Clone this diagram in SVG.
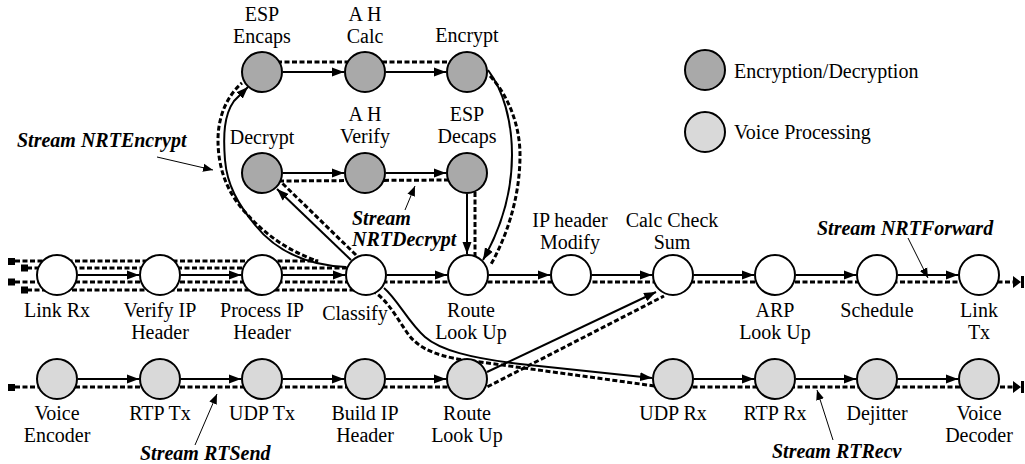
<svg xmlns="http://www.w3.org/2000/svg" width="1025" height="464" viewBox="0 0 1025 464">
<defs>
<marker id="arr" markerUnits="userSpaceOnUse" markerWidth="13" markerHeight="10" refX="12" refY="5" orient="auto"><path d="M0,0.5 L12,5 L0,9.5 Z" fill="#000"/></marker>
<marker id="arrs" markerUnits="userSpaceOnUse" markerWidth="11" markerHeight="9" refX="10" refY="4.5" orient="auto"><path d="M0,0.5 L10,4.5 L0,8.5 Z" fill="#000"/></marker>
</defs>
<style>
.n{stroke:#000;stroke-width:2;fill:#fff}
.enc{fill:#a9a9a9}
.voi{fill:#d9d9d9}
text{font-family:"Liberation Serif","Times New Roman",serif;font-size:20px;fill:#000}
.c{text-anchor:middle}
.s{font-weight:bold;font-style:italic}
.sol{fill:none;stroke:#000;stroke-width:2;marker-end:url(#arr)}
.dash{fill:none;stroke:#000;stroke-width:3;stroke-dasharray:5 2.5}
.lead{fill:none;stroke:#000;stroke-width:1;marker-end:url(#arrs)}
.sq{fill:#000}
</style>
<rect width="1025" height="464" fill="#fff"/>

<g id="connectors">
  <!-- stream dashed paths -->
  <path class="dash" d="M15,261 L318,261 C290,252 265,235 245,212 C225,190 218,165 218,140 C218,115 228,95 242,83"/>
  <path class="dash" d="M262,62 L467,62"/>
  <path class="dash" d="M490,76 C508,95 520,125 520,155 C520,200 505,240 490,266"/>
  <path class="dash" d="M27,268 L352,268"/>
  <path class="dash" d="M356,255 L282,183"/>
  <path class="dash" d="M279,181 L450,180"/>
  <path class="dash" d="M475,192 L475,256"/>
  <path class="dash" d="M15,282 L1014,282"/>
  <path class="dash" d="M27,290 L370,290 C385,296 395,315 408,334 C420,350 440,358 480,362 L655,386"/>
  <path class="dash" d="M15,387 L487,387 L664,296"/>
  <path class="dash" d="M655,387 L1014,387"/>
  <!-- entry / exit marks -->
  <rect class="sq" x="8" y="258" width="7" height="7"/>
  <rect class="sq" x="21" y="264.5" width="7" height="7"/>
  <rect class="sq" x="8" y="278.5" width="7" height="7"/>
  <rect class="sq" x="21" y="286.5" width="7" height="7"/>
  <rect class="sq" x="8" y="384" width="7" height="7"/>
  <path d="M1013,276 L1021,282 L1013,288 Z M1021,276 h3 v12 h-3 Z" fill="#000"/>
  <path d="M1013,381 L1021,387 L1013,393 Z M1021,381 h3 v12 h-3 Z" fill="#000"/>
  <!-- solid connectors: main row -->
  <path class="sol" d="M78,275 L139,275"/>
  <path class="sol" d="M181,275 L241,275"/>
  <path class="sol" d="M283,275 L345,275"/>
  <path class="sol" d="M387,275 L447,275"/>
  <path class="sol" d="M489,275 L550,275"/>
  <path class="sol" d="M592,275 L652,275"/>
  <path class="sol" d="M694,275 L754,275"/>
  <path class="sol" d="M796,275 L856,275"/>
  <path class="sol" d="M898,275 L958,275"/>
  <!-- bottom row -->
  <path class="sol" d="M78,379 L139,379"/>
  <path class="sol" d="M181,379 L241,379"/>
  <path class="sol" d="M283,379 L344,379"/>
  <path class="sol" d="M386,379 L446,379"/>
  <path class="sol" d="M694,379 L754,379"/>
  <path class="sol" d="M796,379 L856,379"/>
  <path class="sol" d="M898,379 L958,379"/>
  <!-- top rows -->
  <path class="sol" d="M283,72 L344,72"/>
  <path class="sol" d="M386,72 L446,72"/>
  <path class="sol" d="M283,173 L344,173"/>
  <path class="sol" d="M386,173 L446,173"/>
  <!-- branches -->
  <path class="sol" d="M346,267 C305,265 275,250 255,225 C238,204 227,185 225,160 C223,135 224,115 234,101 L248,87"/>
  <path class="sol" d="M351,260 L277,189"/>
  <path class="sol" d="M467,194 L467,254"/>
  <path class="sol" d="M488,70 C503,90 512,120 512,155 C512,195 500,230 483,260"/>
  <path class="sol" d="M384,288 C398,300 408,322 425,337 C440,350 470,358 520,364 L652,378"/>
  <path class="sol" d="M487,372 L656,292"/>
  <!-- leader arrows for stream labels -->
  <path class="lead" d="M157,157 L213,170"/>
  <path class="lead" d="M405,210 L415,186"/>
  <path class="lead" d="M908,238 L928,278"/>
  <path class="lead" d="M195,445 L217,394"/>
  <path class="lead" d="M833,440 L817,390"/>
</g>

<g id="n-esp-encaps"><circle class="n enc" cx="262" cy="72" r="20"/><text class="c" x="262" y="21">ESP</text><text class="c" x="262" y="43">Encaps</text></g>
<g id="n-ah-calc"><circle class="n enc" cx="365" cy="72" r="20"/><text class="c" x="365" y="21">A H</text><text class="c" x="365" y="43">Calc</text></g>
<g id="n-encrypt"><circle class="n enc" cx="467" cy="72" r="20"/><text class="c" x="467" y="42">Encrypt</text></g>
<g id="n-decrypt"><circle class="n enc" cx="262" cy="173" r="20"/><text class="c" x="262" y="144">Decrypt</text></g>
<g id="n-ah-verify"><circle class="n enc" cx="365" cy="173" r="20"/><text class="c" x="365" y="121">A H</text><text class="c" x="365" y="143">Verify</text></g>
<g id="n-esp-decaps"><circle class="n enc" cx="467" cy="173" r="20"/><text class="c" x="467" y="121">ESP</text><text class="c" x="467" y="143">Decaps</text></g>

<g id="n-link-rx"><circle class="n" cx="57" cy="275" r="20"/><text class="c" x="57" y="317">Link Rx</text></g>
<g id="n-verify-ip"><circle class="n" cx="160" cy="275" r="20"/><text class="c" x="160" y="317">Verify IP</text><text class="c" x="160" y="339">Header</text></g>
<g id="n-process-ip"><circle class="n" cx="262" cy="275" r="20"/><text class="c" x="262" y="317">Process IP</text><text class="c" x="262" y="339">Header</text></g>
<g id="n-classify"><circle class="n" cx="366" cy="275" r="20"/><text class="c" x="355" y="320">Classify</text></g>
<g id="n-route1"><circle class="n" cx="468" cy="275" r="20"/><text class="c" x="471" y="317">Route</text><text class="c" x="471" y="339">Look Up</text></g>
<g id="n-ip-modify"><circle class="n" cx="571" cy="275" r="20"/><text class="c" x="570" y="227">IP header</text><text class="c" x="570" y="249">Modify</text></g>
<g id="n-checksum"><circle class="n" cx="673" cy="275" r="20"/><text class="c" x="672" y="227">Calc Check</text><text class="c" x="672" y="249">Sum</text></g>
<g id="n-arp"><circle class="n" cx="775" cy="275" r="20"/><text class="c" x="775" y="317">ARP</text><text class="c" x="775" y="339">Look Up</text></g>
<g id="n-schedule"><circle class="n" cx="877" cy="275" r="20"/><text class="c" x="877" y="317">Schedule</text></g>
<g id="n-link-tx"><circle class="n" cx="979" cy="275" r="20"/><text class="c" x="979" y="317">Link</text><text class="c" x="979" y="339">Tx</text></g>

<g id="n-voice-enc"><circle class="n voi" cx="57" cy="379" r="20"/><text class="c" x="57" y="420">Voice</text><text class="c" x="57" y="442">Encoder</text></g>
<g id="n-rtp-tx"><circle class="n voi" cx="160" cy="379" r="20"/><text class="c" x="160" y="420">RTP Tx</text></g>
<g id="n-udp-tx"><circle class="n voi" cx="262" cy="379" r="20"/><text class="c" x="262" y="420">UDP Tx</text></g>
<g id="n-build-ip"><circle class="n voi" cx="365" cy="379" r="20"/><text class="c" x="365" y="420">Build IP</text><text class="c" x="365" y="442">Header</text></g>
<g id="n-route2"><circle class="n voi" cx="467" cy="379" r="20"/><text class="c" x="467" y="420">Route</text><text class="c" x="467" y="442">Look Up</text></g>
<g id="n-udp-rx"><circle class="n voi" cx="673" cy="379" r="20"/><text class="c" x="673" y="420">UDP Rx</text></g>
<g id="n-rtp-rx"><circle class="n voi" cx="775" cy="379" r="20"/><text class="c" x="775" y="420">RTP Rx</text></g>
<g id="n-dejitter"><circle class="n voi" cx="877" cy="379" r="20"/><text class="c" x="877" y="420">Dejitter</text></g>
<g id="n-voice-dec"><circle class="n voi" cx="979" cy="379" r="20"/><text class="c" x="979" y="420">Voice</text><text class="c" x="979" y="442">Decoder</text></g>

<g id="stream-labels">
  <text class="s" x="17" y="147">Stream NRTEncrypt</text>
  <text class="s" x="352" y="225">Stream</text>
  <text class="s" x="352" y="246">NRTDecrypt</text>
  <text class="s" x="817" y="235">Stream NRTForward</text>
  <text class="s" x="140" y="460">Stream RTSend</text>
  <text class="s" x="772" y="458">Stream RTRecv</text>
</g>

<g id="legend">
  <circle class="n enc" cx="705" cy="70" r="20"/>
  <text x="734" y="78">Encryption/Decryption</text>
  <circle class="n voi" cx="705" cy="132" r="20"/>
  <text x="734" y="139">Voice Processing</text>
</g>
</svg>
